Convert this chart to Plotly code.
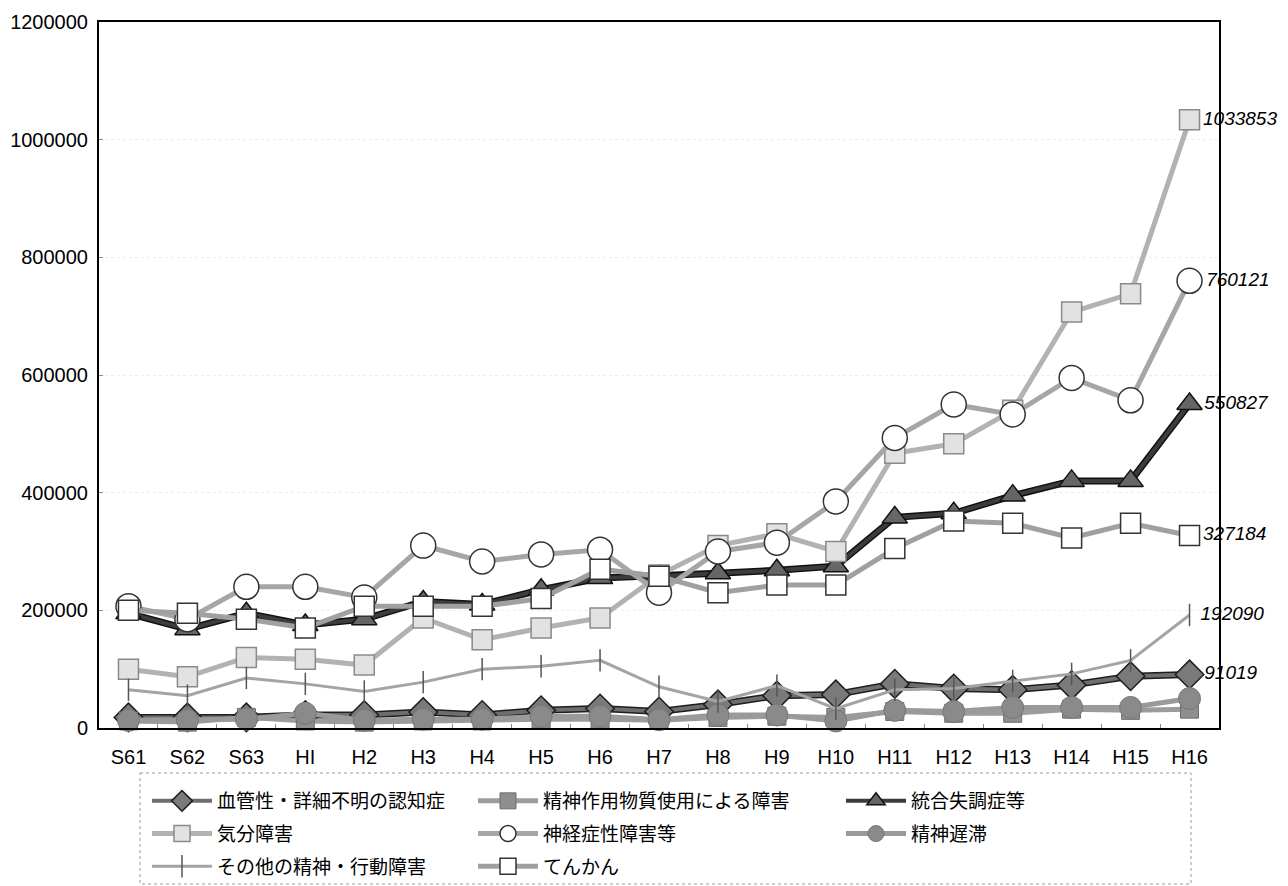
import plotly.graph_objects as go

categories = ["S61", "S62", "S63", "HI", "H2", "H3", "H4", "H5", "H6", "H7",
              "H8", "H9", "H10", "H11", "H12", "H13", "H14", "H15", "H16"]

vascular_dementia = [18000, 18000, 18000, 22000, 22000, 27000, 22000, 30000, 33000, 28000,
                     40000, 55000, 57000, 75000, 67000, 65000, 73000, 88000, 91019]
substance_use = [12000, 10000, 18000, 12000, 10000, 12000, 12000, 15000, 15000, 13000,
                 18000, 20000, 18000, 28000, 25000, 25000, 32000, 30000, 32000]
schizophrenia = [195000, 168000, 195000, 175000, 185000, 215000, 210000, 235000, 255000, 258000,
                 263000, 268000, 275000, 358000, 365000, 395000, 420000, 420000, 550827]
mood_disorder = [100000, 87000, 120000, 117000, 107000, 187000, 150000, 170000, 187000, 260000,
                 310000, 330000, 300000, 467000, 483000, 540000, 707000, 738000, 1033853]
neurotic = [207000, 185000, 240000, 240000, 222000, 310000, 283000, 295000, 303000, 230000,
            300000, 315000, 385000, 493000, 550000, 533000, 595000, 557000, 760121]
mental_retardation = [13000, 13000, 15000, 25000, 13000, 15000, 15000, 20000, 20000, 14000,
                      22000, 22000, 12000, 30000, 28000, 35000, 35000, 35000, 50000]
other_disorders = [65000, 55000, 85000, 75000, 62000, 78000, 100000, 105000, 115000, 70000,
                   45000, 72000, 33000, 65000, 67000, 80000, 92000, 115000, 192090]
epilepsy = [200000, 195000, 185000, 170000, 207000, 207000, 207000, 220000, 270000, 258000,
            230000, 243000, 243000, 305000, 352000, 348000, 323000, 348000, 327184]

names = ["血管性・詳細不明の認知症", "精神作用物質使用による障害", "統合失調症等", "気分障害",
         "神経症性障害等", "精神遅滞", "その他の精神・行動障害", "てんかん"]

y_ticks = [0, 200000, 400000, 600000, 800000, 1000000, 1200000]

JP = "Noto Sans CJK JP"
NUM = "Liberation Sans, Arial, sans-serif"

# The page body adds an 8px offset, so the figure is 8px smaller and margins are shifted.
OFF = 8
W, H = 1288 - OFF, 886 - OFF
PL, PR, PT, PB = 99 - OFF, 1219 - OFF, 22 - OFF, 728 - OFF   # plot area in figure px
PW, PH = PR - PL, PB - PT


def px_x(sx):
    return (sx - OFF - PL) / PW


def px_y(sy):
    return (PB - (sy - OFF)) / PH


def end_label(vals, show):
    if not show:
        return None
    return [""] * (len(vals) - 1) + [str(vals[-1])]


series = [
    (vascular_dementia, names[0], "legend", "#6e6e6e", 4, "#1e1e1e", "diamond", 22, "#7a7a7a", "#1e1e1e", 1.5, True),
    (substance_use, names[1], "legend2", "#9c9c9c", 5, None, "square", 18, "#8e8e8e", "#6e6e6e", 1, False),
    (schizophrenia, names[2], "legend3", "#3c3c3c", 4, "#111111", "triangle-up", 22, "#666666", "#111111", 1.5, True),
    (mood_disorder, names[3], "legend", "#b2b2b2", 5, None, "square", 20, "#e2e2e2", "#8a8a8a", 1.5, True),
    (neurotic, names[4], "legend2", "#a6a6a6", 5, None, "circle", 25, "#ffffff", "#333333", 1.5, True),
    (mental_retardation, names[5], "legend3", "#9a9a9a", 5, None, "circle", 22, "#8a8a8a", "#777777", 1, False),
    (other_disorders, names[6], "legend", "#a4a4a4", 3, None, "line-ns-open", 16, "#555555", "#555555", 1.5, True),
    (epilepsy, names[7], "legend2", "#a0a0a0", 5, None, "square", 20, "#ffffff", "#333333", 1.5, True),
]

fig = go.Figure()

for i, (vals, name, leg, lc, lw, oc, sym, ms, fill, mlc, mlw, lab) in enumerate(series):
    if oc is not None:
        fig.add_trace(go.Scatter(
            x=categories, y=vals, mode="lines", line=dict(color=oc, width=lw + 3),
            showlegend=False, hoverinfo="skip", cliponaxis=False))
    fig.add_trace(go.Scatter(
        x=categories, y=vals, name=name, legend=leg, legendgroup=f"g{i}",
        mode="lines+markers+text" if lab else "lines+markers",
        text=end_label(vals, lab), textposition="middle right",
        textfont=dict(family=NUM, size=19, color="#000000", style="italic"),
        line=dict(color=lc, width=lw),
        marker=dict(symbol=sym, size=ms, color=fill, line=dict(color=mlc, width=mlw)),
        cliponaxis=False,
    ))

# legend frame (dotted)
fig.add_shape(type="rect", xref="paper", yref="paper",
              x0=px_x(140), x1=px_x(1191), y0=px_y(773), y1=px_y(884),
              line=dict(color="#9a9a9a", width=1, dash="dot"), fillcolor="rgba(0,0,0,0)")

leg_common = dict(orientation="v", xanchor="left", yanchor="top", y=px_y(782),
                  font=dict(family=JP, size=19, color="#000000"), itemwidth=60,
                  tracegroupgap=5, bgcolor="rgba(0,0,0,0)", borderwidth=0,
                  itemclick=False, itemdoubleclick=False)

fig.update_layout(
    width=W, height=H,
    margin=dict(l=PL, r=W - PR, t=PT, b=H - PB, autoexpand=False),
    paper_bgcolor="#ffffff", plot_bgcolor="#ffffff",
    font=dict(family=NUM, size=20, color="#000000"),
    showlegend=True,
    legend=dict(x=px_x(147), **leg_common),
    legend2=dict(x=px_x(473), **leg_common),
    legend3=dict(x=px_x(841), **leg_common),
    xaxis=dict(type="category", categoryorder="array", categoryarray=categories,
               range=[-0.5, 18.5], showline=True, linecolor="#000000", linewidth=2,
               mirror=True, showgrid=False, ticks="inside", tickson="boundaries",
               ticklen=4, tickcolor="#888888", ticklabelstandoff=10,
               tickfont=dict(family=NUM, size=20, color="#000000"), zeroline=False),
    yaxis=dict(range=[0, 1200000], tickvals=y_ticks, ticktext=[str(v) for v in y_ticks],
               showline=True, linecolor="#000000", linewidth=2, mirror=True,
               showgrid=True, gridcolor="#ededed", griddash="dot", gridwidth=1,
               ticks="inside", ticklen=4, tickcolor="#888888", ticklabelstandoff=5,
               ticklabeloverflow="allow",
               tickfont=dict(family=NUM, size=20, color="#000000"), zeroline=False),
)

fig.write_html("out.html")
